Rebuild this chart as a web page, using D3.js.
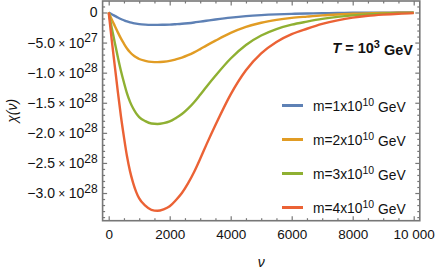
<!DOCTYPE html>
<html>
<head>
<meta charset="utf-8">
<script src="https://cdn.jsdelivr.net/npm/d3@7"></script>
<style>
  body { margin: 0; background: #fff; }
  text { font-family: "Liberation Sans", Arial, sans-serif; fill: #111; }
</style>
</head>
<body>
<svg id="chart" width="436" height="273"></svg>
<script>
// nu grid and chi(nu) values, in units of 1e27
const nu = [0, 100, 200, 300, 400, 500, 600, 700, 800, 900, 1000, 1200, 1400, 1600, 1800,
  2000, 2200, 2400, 2600, 2800, 3000, 3200, 3500, 4000, 4500, 5000, 5500, 6000, 6500,
  7000, 7500, 8000, 8500, 9000, 9500, 10000];
const chiM1 = [0, -0.29, -0.56, -0.83, -1.08, -1.29, -1.49, -1.65, -1.77, -1.86, -1.93, -2.01,
  -2.05, -2.06, -2.04, -2.01, -1.95, -1.88, -1.78, -1.66, -1.52, -1.38, -1.17, -0.85, -0.6,
  -0.43, -0.31, -0.23, -0.17, -0.12, -0.08, -0.05, -0.03, -0.02, -0.01, -0.01];
const chiM2 = [0, -1.15, -2.23, -3.3, -4.3, -5.18, -5.98, -6.6, -7.08, -7.45, -7.73, -8.03,
  -8.2, -8.24, -8.18, -8.05, -7.8, -7.5, -7.1, -6.63, -6.08, -5.5, -4.68, -3.4, -2.4, -1.7,
  -1.23, -0.9, -0.68, -0.48, -0.33, -0.21, -0.14, -0.09, -0.05, -0.03];
const chiM3 = [0, -2.59, -5.01, -7.43, -9.68, -11.64, -13.44, -14.85, -15.92, -16.76, -17.38,
  -18.06, -18.45, -18.53, -18.39, -18.11, -17.55, -16.88, -15.98, -14.91, -13.67, -12.38,
  -10.52, -7.65, -5.4, -3.83, -2.76, -2.03, -1.52, -1.07, -0.73, -0.48, -0.31, -0.2, -0.11, -0.06];
const chiM4 = [0, -4.6, -8.9, -13.2, -17.2, -20.7, -23.9, -26.4, -28.3, -29.8, -30.9, -32.1,
  -32.8, -32.95, -32.7, -32.2, -31.2, -30.0, -28.4, -26.5, -24.3, -22.0, -18.7, -13.6, -9.6,
  -6.8, -4.9, -3.6, -2.7, -1.9, -1.3, -0.85, -0.55, -0.35, -0.2, -0.1];

const masses = ["1", "2", "3", "4"];
const colors = ["#5e81b5", "#e19c24", "#8fb032", "#eb6235"];

const xTicks = [0, 2000, 4000, 6000, 8000, 10000];
const xTickLabels = ["0", "2000", "4000", "6000", "8000", "10 000"];
const yTicks = [0, -5, -10, -15, -20, -25, -30];
const yTickMantissa = ["0", "\u22125.0", "\u22121.0", "\u22121.5", "\u22122.0", "\u22122.5", "\u22123.0"];
const yTickExponent = ["", "27", "28", "28", "28", "28", "28"];

const width = 436, height = 273;
const margin = {top: 1, right: 16.2, bottom: 52.3, left: 102.6};
const frameColor = "#777";

const series = [chiM1, chiM2, chiM3, chiM4].map((vals, i) => ({
  m: masses[i], color: colors[i], values: nu.map((v, j) => ({nu: v, chi: vals[j]}))
}));

const x = d3.scaleLinear()
    .domain([-200, 10200])
    .range([margin.left, width - margin.right]);
const y = d3.scaleLinear()
    .domain([-34.6, 1.91])
    .range([height - margin.bottom, margin.top]);

const svg = d3.select("#chart");

const line = d3.line()
    .x(d => x(d.nu))
    .y(d => y(d.chi))
    .curve(d3.curveMonotoneX);

svg.append("g")
    .attr("fill", "none")
    .attr("stroke-width", 2.4)
    .attr("stroke-linejoin", "round")
  .selectAll("path")
  .data(series)
  .join("path")
    .attr("stroke", d => d.color)
    .attr("d", d => line(d.values));

// ticks on all four sides, pointing inward
const xMinor = d3.range(0, 10001, 500).filter(v => v % 2000);
const yMinor = d3.range(-34, 2, 1).filter(v => v % 5);

function ticks(axis, transform, vals, size, fmt) {
  svg.append("g")
      .attr("transform", transform)
      .call(axis.tickValues(vals).tickSize(size).tickFormat(fmt))
      .call(g => g.select(".domain").remove())
      .call(g => g.selectAll(".tick line").attr("stroke", frameColor).attr("stroke-width", 1.2));
}
const blank = () => "";
ticks(d3.axisBottom(x), `translate(0,${height - margin.bottom})`, xMinor, -2.5, blank);
ticks(d3.axisTop(x), `translate(0,${margin.top})`, xMinor, -2.5, blank);
ticks(d3.axisTop(x), `translate(0,${margin.top})`, xTicks, -4.5, blank);
ticks(d3.axisLeft(y), `translate(${margin.left},0)`, yMinor, -2.5, blank);
ticks(d3.axisRight(y), `translate(${width - margin.right},0)`, yMinor, -2.5, blank);
ticks(d3.axisRight(y), `translate(${width - margin.right},0)`, yTicks, -4.5, blank);

svg.append("g")
    .attr("transform", `translate(0,${height - margin.bottom})`)
    .call(d3.axisBottom(x).tickValues(xTicks).tickSize(-4.5).tickPadding(9)
        .tickFormat((d, i) => xTickLabels[i]))
    .call(g => g.select(".domain").remove())
    .call(g => g.selectAll(".tick line").attr("stroke", frameColor).attr("stroke-width", 1.2))
    .call(g => g.selectAll(".tick text")
        .attr("fill", "#111").attr("font-size", 13.5)
        .attr("font-family", "Liberation Sans, Arial, sans-serif"));

svg.append("g")
    .attr("transform", `translate(${margin.left},0)`)
    .call(d3.axisLeft(y).tickValues(yTicks).tickSize(-4.5).tickPadding(5).tickFormat(blank))
    .call(g => g.select(".domain").remove())
    .call(g => g.selectAll(".tick line").attr("stroke", frameColor).attr("stroke-width", 1.2))
    .call(g => g.selectAll(".tick text").each(function(d, i) {
      const t = d3.select(this)
          .attr("fill", "#111").attr("font-size", 14)
          .attr("font-family", "Liberation Sans, Arial, sans-serif");
      t.append("tspan").text(yTickMantissa[i]);
      if (yTickExponent[i]) {
        t.append("tspan").attr("font-size", 12).text(" \u00d7 ");
        t.append("tspan").text("10");
        t.append("tspan").attr("dy", "-0.45em").attr("font-size", 12).text(yTickExponent[i]);
      }
    }));

// frame
svg.append("rect")
    .attr("x", margin.left)
    .attr("y", margin.top)
    .attr("width", width - margin.left - margin.right)
    .attr("height", height - margin.top - margin.bottom)
    .attr("fill", "none")
    .attr("stroke", frameColor)
    .attr("stroke-width", 1.6);

// axis titles
svg.append("text")
    .attr("transform", `translate(17,${(margin.top + height - margin.bottom) / 2}) rotate(-90)`)
    .attr("text-anchor", "middle")
    .attr("font-size", 14)
    .attr("font-style", "italic")
    .text("\u03c7(\u03bd)");

svg.append("text")
    .attr("x", (margin.left + width - margin.right) / 2)
    .attr("y", 267)
    .attr("text-anchor", "middle")
    .attr("font-size", 14)
    .attr("font-style", "italic")
    .text("\u03bd");

// temperature label
const tLabel = svg.append("text")
    .attr("x", 413)
    .attr("y", 53)
    .attr("text-anchor", "end")
    .attr("font-size", 14.5)
    .attr("font-weight", "bold");
tLabel.append("tspan").attr("font-style", "italic").text("T");
tLabel.append("tspan").text(" = 10");
tLabel.append("tspan").attr("dy", "-0.45em").attr("font-size", 11).text("3");
tLabel.append("tspan").attr("dy", "0.45em").text(" GeV");

// legend
const legend = svg.append("g")
  .selectAll("g")
  .data(series)
  .join("g")
    .attr("transform", (d, i) => `translate(282,${105.5 + i * 34})`);

legend.append("line")
    .attr("x2", 21)
    .attr("stroke", d => d.color)
    .attr("stroke-width", 3);

legend.append("text")
    .attr("x", 31)
    .attr("y", 5)
    .attr("font-size", 13.8)
    .each(function(d) {
      const t = d3.select(this);
      t.append("tspan").text(`m=${d.m}x10`);
      t.append("tspan").attr("dy", "-0.45em").attr("font-size", 10.5).text("10");
      t.append("tspan").attr("dy", "0.45em").text(" GeV");
    });
</script>
</body>
</html>
